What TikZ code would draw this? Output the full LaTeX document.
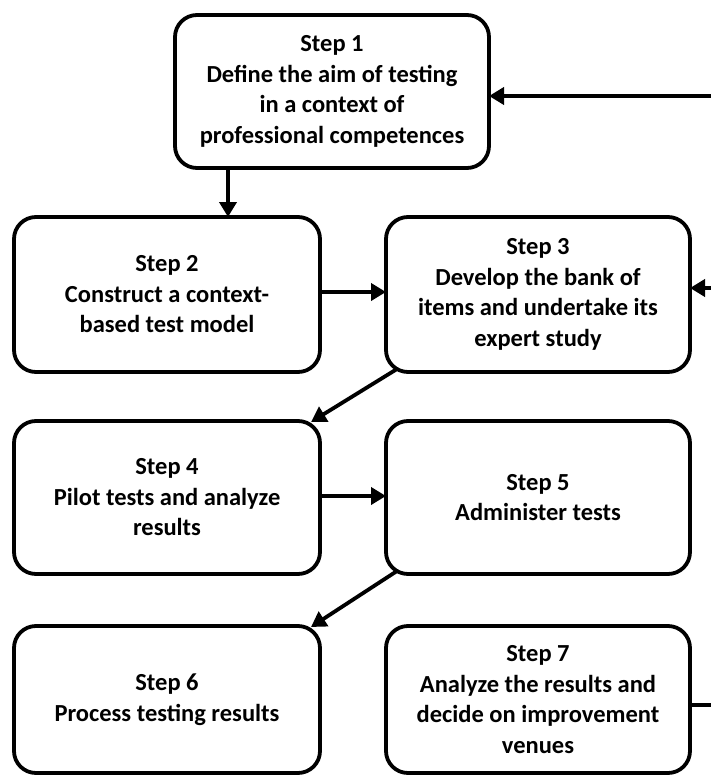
\documentclass[tikz,border=0pt]{standalone}
\usepackage{fontspec}
\setmainfont{Carlito}
\usetikzlibrary{arrows.meta}
\begin{document}
\begin{tikzpicture}[x=1pt,y=1pt,
  stepbox/.style={draw, line width=3.8pt, rounded corners=22pt, anchor=north west,
    align=center, inner sep=0pt, outer sep=0pt,
    font=\bfseries\fontsize{24.5}{30.5}\selectfont},
  conn/.style={line width=3.8pt, -{Triangle[length=15pt,width=17pt]}},
  plain/.style={line width=3.8pt}]
\useasboundingbox (0,0) rectangle (711,-776);
\node[stepbox, minimum width=314pt, minimum height=153pt] (b1) at (175,-15)
  {Step 1\\Define the aim of testing\\in a context of\\professional competences};
\node[stepbox, minimum width=306pt, minimum height=155pt] (b2) at (14,-217)
  {Step 2\\Construct a context-\\based test model};
\node[stepbox, minimum width=304pt, minimum height=155pt] (b3) at (386,-217)
  {Step 3\\Develop the bank of\\items and undertake its\\expert study};
\node[stepbox, minimum width=306pt, minimum height=153pt] (b4) at (14,-421)
  {Step 4\\Pilot tests and analyze\\results};
\node[stepbox, minimum width=304pt, minimum height=153pt] (b5) at (386,-421)
  {Step 5\\Administer tests};
\node[stepbox, minimum width=306pt, minimum height=147pt] (b6) at (14,-626)
  {Step 6\\Process testing results};
\node[stepbox, minimum width=304pt, minimum height=147pt] (b7) at (386,-626)
  {Step 7\\Analyze the results and\\decide on improvement\\venues};
\coordinate (r1) at (713,-96);
\coordinate (r3) at (713,-288);
\coordinate (r7) at (713,-705);
\draw[conn] (r1) -- (r1 -| b1.east);
\draw[conn] (r3) -- (r3 -| b3.east);
\draw[plain] (r7 -| b7.east) -- (r7);
\draw[conn] ([xshift=53pt]b1.south west) -- ([xshift=214pt]b2.north west);
\draw[conn] ([yshift=-75pt]b2.north east) -- ([yshift=-75pt]b3.north west);
\draw[conn] ([yshift=-75pt]b4.north east) -- ([yshift=-75pt]b5.north west);
\draw[conn] ([shift={(11pt,3pt)}]b3.south west) -- ([shift={(-9pt,-1pt)}]b4.north east);
\draw[conn] ([shift={(11pt,3pt)}]b5.south west) -- ([shift={(-9pt,-1pt)}]b6.north east);
\end{tikzpicture}
\end{document}
